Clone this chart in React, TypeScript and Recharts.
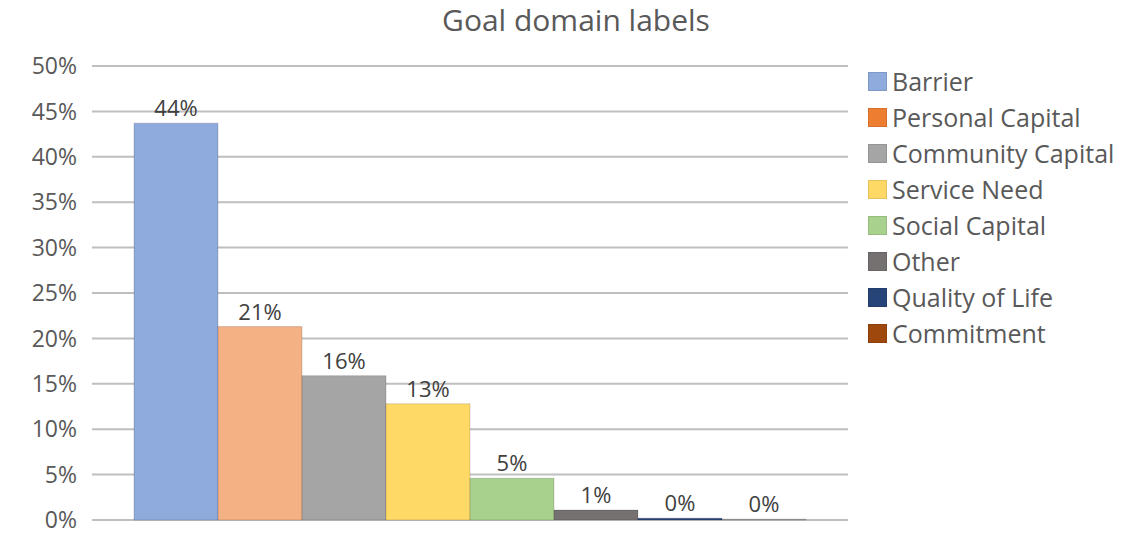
import React from 'react';
import { BarChart, Bar, XAxis, YAxis, CartesianGrid, LabelList } from 'recharts';

const categories = ['Barrier', 'Personal Capital', 'Community Capital', 'Service Need', 'Social Capital', 'Other', 'Quality of Life', 'Commitment'];
const values = [43.7, 21.3, 15.9, 12.8, 4.6, 1.1, 0.2, 0.1];
const barColors = ['#8FAADC', '#F4B183', '#A5A5A5', '#FFD966', '#A9D18E', '#767171', '#264478', '#A6A6A6'];
const legendColors = ['#8FAADC', '#ED7D31', '#A5A5A5', '#FFD966', '#A9D18E', '#767171', '#264478', '#9E480E'];
const yTicks = [0, 5, 10, 15, 20, 25, 30, 35, 40, 45, 50];

const row: Record<string, number | string> = { name: '' };
categories.forEach((c, i) => { row[c] = values[i]; });
const data = [row];

const FONT = '"Open Sans", "Segoe UI", sans-serif';

export default function App() {
  return (
    <div style={{ position: 'absolute', left: 0, top: 0, width: 1143, height: 533, background: '#fff', overflow: 'hidden' }}>
      <div style={{ position: 'absolute', left: 0, top: 0, width: 1152, height: 40, lineHeight: '40px', textAlign: 'center', fontFamily: FONT, fontSize: 30, color: '#595959' }}>
        Goal domain labels
      </div>
      <div style={{ position: 'absolute', left: 868, top: 63, fontFamily: FONT }}>
        {categories.map((c, i) => (
          <div key={c} style={{ display: 'flex', alignItems: 'center', height: 36 }}>
            <div style={{ width: 19, height: 19, background: legendColors[i], border: '1px solid rgba(0,0,0,0.1)', boxSizing: 'border-box', marginRight: 5 }} />
            <span style={{ fontSize: 25, lineHeight: '36px', color: '#595959', whiteSpace: 'nowrap' }}>{c}</span>
          </div>
        ))}
      </div>
      <div style={{ position: 'absolute', left: 0, top: 0 }}>
        <BarChart width={1143} height={545} data={data} margin={{ top: 66, right: 295, bottom: 25, left: 0 }} barCategoryGap={42} barGap={0}>
          <CartesianGrid vertical={false} stroke="#BFBFBF" strokeWidth={2} />
          <XAxis dataKey="name" tick={false} tickLine={false} axisLine={{ stroke: '#BFBFBF', strokeWidth: 2 }} height={0} />
          <YAxis
            width={92}
            domain={[0, 50]}
            ticks={yTicks}
            interval={0}
            tickFormatter={(v: number) => `${v}%`}
            axisLine={false}
            tickLine={false}
            tickSize={0}
            tickMargin={15}
            tick={{ fontFamily: FONT, fontSize: 23, fill: '#595959' }}
          />
          {categories.map((c, i) => (
            <Bar key={c} dataKey={c} fill={barColors[i]} stroke="rgba(0,0,0,0.15)" strokeWidth={1} isAnimationActive={false}>
              <LabelList
                dataKey={c}
                position="top"
                offset={7}
                formatter={(v: number) => `${Math.round(v)}%`}
                style={{ fontFamily: FONT, fontSize: 22, fill: '#404040' }}
              />
            </Bar>
          ))}
        </BarChart>
      </div>
    </div>
  );
}
